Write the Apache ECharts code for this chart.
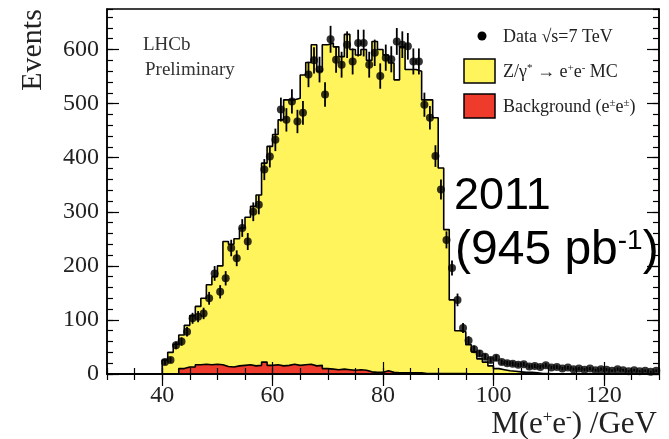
<!DOCTYPE html>
<html>
<head>
<meta charset="utf-8">
<script src="https://cdn.jsdelivr.net/npm/echarts@6/dist/echarts.min.js"></script>
<style>
  html, body { margin: 0; padding: 0; background: #fff; }
  #chart { width: 669px; height: 439px; }
</style>
</head>
<body>
<div id="chart"></div>
<script>
// Di-electron invariant mass, 1 GeV bins starting at 40 GeV
const binStart = 40;
const binWidth = 1;

// Z/gamma* -> e+e- simulation (bins 40..129)
const mcEvents = [
  26, 40, 55, 72, 90, 108, 125, 140, 165, 180,
  200, 245, 240, 250, 270, 290, 310, 331, 390, 421,
  443, 470, 507, 507, 510, 553, 576, 609, 560, 609,
  612, 605, 587, 628, 600, 590, 600, 580, 615, 600,
  590, 575, 544, 605, 563, 563, 560, 507, 507, 474,
  381, 267, 137, 80, 78, 54, 41, 28, 22, 15,
  10, 8, 6, 5, 4, 3, 3, 2, 1, 1,
  0, 0, 0, 0, 0, 0, 0, 0, 0, 0,
  0, 0, 0, 0, 0, 0, 0, 0, 0, 0
];

// same-sign background (bins 40..129)
const bkgEvents = [
  0, 0, 0, 10, 13, 13, 17, 18, 17, 18,
  17, 14, 13, 15, 16, 17, 15, 16, 22, 16,
  17, 15, 16, 18, 16, 17, 18, 15, 16, 10,
  9, 8, 9, 8, 7, 8, 7, 4, 3, 3,
  6, 3, 2, 2, 2, 2, 2, 1, 1, 1,
  1, 1, 1, 1, 1, 0, 0, 0, 0, 0,
  0, 0, 0, 0, 0, 0, 0, 0, 0, 0,
  0, 0, 0, 0, 0, 0, 0, 0, 0, 0,
  0, 0, 0, 0, 0, 0, 0, 0, 0, 0
];

// observed candidates (bins 40..129)
const dataEvents = [
  22, 26, 53, 60, 78, 103, 106, 112, 140, 186,
  152, 177, 233, 214, 270, 245, 300, 313, 378, 402,
  433, 489, 470, 504, 467, 483, 554, 580, 563, 517,
  619, 581, 572, 609, 578, 612, 612, 572, 594, 551,
  585, 582, 615, 609, 606, 578, 578, 498, 474, 403,
  341, 248, 196, 137, 85, 62, 46, 38, 32, 26,
  30, 22, 20, 19, 17, 18, 14, 15, 13, 16,
  12, 13, 10, 12, 9, 10, 8, 10, 7, 9,
  8, 6, 9, 7, 5, 7, 5, 6, 4, 6
];

const xTicks = [40, 60, 80, 100, 120];
const yTicks = [0, 100, 200, 300, 400, 500, 600];

const serif = 'Liberation Serif';
const black = '#000';

// histogram outline as step points: rise at the first edge, drop at the last
function stepPoints(vals) {
  const pts = [[binStart, 0]];
  vals.forEach((v, i) => pts.push([binStart + i * binWidth, v]));
  pts.push([binStart + vals.length * binWidth, 0]);
  return pts;
}

const dataPoints = dataEvents.map((v, i) => [binStart + (i + 0.5) * binWidth, v]);
const errorBars = dataEvents.map((v, i) => [binStart + (i + 0.5) * binWidth, v, Math.sqrt(v)]);

const frame = { left: 107, top: 9, right: 10, bottom: 65 };
const axisLine = { show: true, lineStyle: { color: black, width: 1.5 } };
const tickStyle = { color: black, width: 1.2 };

function majorX(position, labels) {
  return {
    gridIndex: 0, type: 'value', position, min: 30, max: 130, z: 10,
    axisLine,
    axisTick: { show: true, inside: true, length: 12, customValues: xTicks, lineStyle: tickStyle },
    axisLabel: labels
      ? { show: true, customValues: xTicks, margin: 10, fontFamily: serif, fontSize: 24, color: '#222' }
      : { show: false },
    splitLine: { show: false }
  };
}
function minorX(position) {
  return {
    gridIndex: 1, type: 'value', position, min: 30, max: 130, interval: 5, z: 10,
    axisLine: { show: false },
    axisTick: { show: true, inside: true, length: 6, lineStyle: tickStyle },
    axisLabel: { show: false }, splitLine: { show: false }
  };
}
function majorY(position, labels) {
  return {
    gridIndex: 0, type: 'value', position, min: 0, max: 675, z: 10,
    axisLine,
    axisTick: { show: true, inside: true, length: 12, customValues: yTicks, lineStyle: tickStyle },
    axisLabel: labels
      ? { show: true, customValues: yTicks, margin: 8, fontFamily: serif, fontSize: 24, color: '#222' }
      : { show: false },
    splitLine: { show: false }
  };
}
function minorY(position) {
  return {
    gridIndex: 1, type: 'value', position, min: 0, max: 675, interval: 20, z: 10,
    axisLine: { show: false },
    axisTick: { show: true, inside: true, length: 6, lineStyle: tickStyle },
    axisLabel: { show: false }, splitLine: { show: false }
  };
}

const supStyle = { fontFamily: serif, fontSize: 11, verticalAlign: 'top', fill: '#222' };

const chart = echarts.init(document.getElementById('chart'), null, { renderer: 'canvas' });
chart.setOption({
  animation: false,
  backgroundColor: '#fff',
  grid: [
    Object.assign({ show: true, borderColor: black, borderWidth: 1.5, backgroundColor: 'transparent' }, frame),
    Object.assign({}, frame)
  ],
  xAxis: [majorX('bottom', true), majorX('top', false), minorX('bottom'), minorX('top')],
  yAxis: [majorY('left', true), majorY('right', false), minorY('left'), minorY('right')],
  series: [
    {
      name: 'Z/γ* → e+e- MC', type: 'line', step: 'end',
      xAxisIndex: 0, yAxisIndex: 0, z: 2,
      data: stepPoints(mcEvents), showSymbol: false, symbol: 'none',
      lineStyle: { color: black, width: 1.6 },
      areaStyle: { color: '#fff45c', opacity: 1 }
    },
    {
      name: 'Background', type: 'line', step: 'end',
      xAxisIndex: 0, yAxisIndex: 0, z: 3,
      data: stepPoints(bkgEvents), showSymbol: false, symbol: 'none',
      lineStyle: { color: black, width: 1.6 },
      areaStyle: { color: '#ee3b2c', opacity: 1 }
    },
    {
      name: 'errors', type: 'custom', xAxisIndex: 0, yAxisIndex: 0, z: 4,
      data: errorBars,
      renderItem: function (params, api) {
        const x = api.value(0), y = api.value(1), e = api.value(2);
        const lo = api.coord([x, y - e]);
        const hi = api.coord([x, y + e]);
        return {
          type: 'line',
          shape: { x1: lo[0], y1: lo[1], x2: hi[0], y2: hi[1] },
          style: { stroke: black, lineWidth: 1.8 }
        };
      }
    },
    {
      name: 'Data', type: 'scatter', xAxisIndex: 0, yAxisIndex: 0, z: 5,
      data: dataPoints, symbol: 'circle', symbolSize: 8,
      itemStyle: { color: black }
    }
  ],
  graphic: [
    // axis titles
    { type: 'text', x: 33, y: 50, rotation: Math.PI / 2,
      style: { text: 'Events', font: '30px "Liberation Serif"', fill: '#222', align: 'center', verticalAlign: 'middle' } },
    { type: 'text', x: 657, y: 425,
      style: {
        text: '{n|M(e}{s|+}{n|e}{s|-}{n|) /GeV}',
        align: 'right', verticalAlign: 'middle',
        rich: {
          n: { fontFamily: serif, fontSize: 31, fill: '#222' },
          s: { fontFamily: serif, fontSize: 17, verticalAlign: 'top', fill: '#222' }
        }
      } },
    // experiment label
    { type: 'text', x: 143, y: 45,
      style: { text: 'LHCb', font: '19px "Liberation Serif"', fill: '#333', verticalAlign: 'middle' } },
    { type: 'text', x: 145, y: 70,
      style: { text: 'Preliminary', font: '19px "Liberation Serif"', fill: '#333', verticalAlign: 'middle' } },
    // legend
    { type: 'circle', shape: { cx: 482, cy: 36, r: 4.5 }, style: { fill: black } },
    { type: 'rect', shape: { x: 464, y: 59, width: 31, height: 24 },
      style: { fill: '#fff45c', stroke: black, lineWidth: 1.5 } },
    { type: 'rect', shape: { x: 464, y: 94, width: 31, height: 24 },
      style: { fill: '#ee3b2c', stroke: black, lineWidth: 1.5 } },
    { type: 'text', x: 503, y: 37,
      style: { text: 'Data √s=7 TeV', font: '18px "Liberation Serif"', fill: '#222', verticalAlign: 'middle' } },
    { type: 'text', x: 503, y: 72,
      style: {
        text: '{n|Z/γ}{s|*}{n| → e}{s|+}{n|e}{s|-}{n| MC}',
        verticalAlign: 'middle',
        rich: { n: { fontFamily: serif, fontSize: 18, fill: '#222' }, s: supStyle }
      } },
    { type: 'text', x: 503, y: 107,
      style: {
        text: '{n|Background (e}{s|±}{n|e}{s|±}{n|)}',
        verticalAlign: 'middle',
        rich: { n: { fontFamily: serif, fontSize: 18, fill: '#222' }, s: supStyle }
      } },
    // run period and luminosity
    { type: 'text', x: 454, y: 197,
      style: { text: '2011', font: '45px "Liberation Sans"', fill: '#000', verticalAlign: 'middle' } },
    { type: 'text', x: 455, y: 251, z: 20,
      style: {
        text: '{n|(945 pb}{s|-1}{n|)}',
        verticalAlign: 'middle',
        rich: {
          n: { fontFamily: 'Liberation Sans', fontSize: 48, fill: '#000' },
          s: { fontFamily: 'Liberation Sans', fontSize: 28, verticalAlign: 'top', fill: '#000' }
        }
      } }
  ]
});
</script>
</body>
</html>
